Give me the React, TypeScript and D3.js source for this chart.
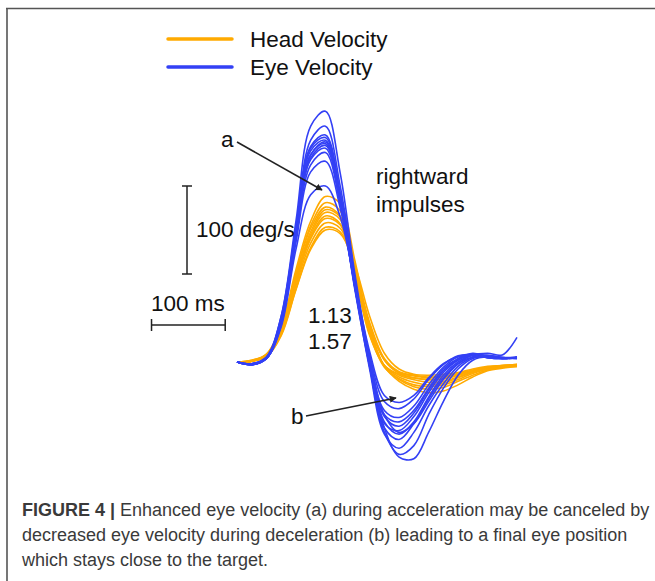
import { useEffect, useRef } from 'react';
import * as d3 from 'd3';

// sample times (ms), one value every 20 ms
const times = [0, 20, 40, 60, 80, 100, 120, 140, 160, 180, 200, 220, 240, 260, 280, 300, 320, 340, 360, 380];

// head velocity traces (deg/s)
const head1 = [0, 1, 9, 40, 105, 160, 188, 180, 115, 40, -5, -22, -31, -35, -33, -26, -17, -10, -7, -5];
const head2 = [0, 1, 8, 38, 100, 155, 181, 172, 108, 36, -5, -20, -28, -31, -29, -22, -15, -9, -6, -5];
const head3 = [0, 2, 9, 40, 100, 152, 176, 166, 102, 32, -6, -19, -26, -28, -26, -20, -13, -8, -6, -4];
const head4 = [0, 1, 7, 35, 95, 148, 173, 165, 105, 35, -4, -17, -23, -26, -24, -18, -12, -8, -5, -4];
const head5 = [0, 1, 8, 36, 94, 145, 170, 162, 100, 32, -4, -15, -20, -23, -22, -17, -11, -7, -5, -4];
const head6 = [0, 2, 8, 37, 93, 142, 166, 157, 98, 30, -4, -14, -18, -20, -19, -15, -10, -7, -5, -3];
const head7 = [0, 1, 7, 34, 90, 140, 163, 156, 104, 40, 2, -13, -18, -20, -19, -15, -10, -7, -5, -4];
const head8 = [0, 1, 7, 33, 87, 135, 158, 152, 106, 42, 3, -12, -16, -18, -17, -14, -10, -6, -4, -3];
const head9 = [0, 1, 6, 31, 83, 130, 153, 148, 104, 45, 4, -11, -15, -17, -16, -13, -9, -6, -4, -3];
const head10 = [0, 1, 6, 30, 82, 128, 150, 146, 110, 52, 10, -8, -14, -15, -14, -12, -8, -5, -4, -3];

// eye velocity traces (deg/s)
const eye1 = [0, -2, 5, 52, 160, 268, 285, 215, 100, 5, -60, -80, -70, -45, -20, -2, 8, 10, 8, 28];
const eye2 = [0, -3, 4, 48, 152, 252, 268, 200, 95, 0, -75, -108, -110, -80, -45, -15, 2, 6, 4, 5];
const eye3 = [0, -2, 4, 46, 148, 245, 258, 192, 88, -5, -80, -105, -95, -60, -30, -8, 4, 6, 5, 5];
const eye4 = [0, -3, 5, 50, 150, 243, 255, 190, 85, -8, -82, -98, -80, -50, -25, -5, 5, 7, 5, 4];
const eye5 = [0, -2, 6, 52, 152, 240, 252, 186, 82, -5, -75, -88, -70, -42, -18, -2, 6, 8, 5, 4];
const eye6 = [0, -3, 4, 45, 145, 235, 250, 190, 90, 0, -68, -82, -68, -40, -15, 0, 8, 6, 4, 5];
const eye7 = [0, -2, 5, 48, 148, 236, 248, 185, 85, -3, -70, -78, -62, -35, -12, 2, 8, 6, 5, 4];
const eye8 = [0, -3, 4, 44, 143, 232, 246, 188, 88, 2, -62, -73, -58, -32, -10, 3, 9, 7, 4, 5];
const eye9 = [0, -2, 4, 46, 145, 230, 243, 182, 84, 0, -60, -68, -55, -30, -8, 4, 10, 6, 4, 5];
const eye10 = [0, -3, 5, 44, 140, 224, 238, 180, 86, 4, -55, -63, -50, -26, -6, 6, 9, 5, 4, 6];
const eye11 = [0, -2, 4, 42, 136, 216, 228, 175, 88, 8, -45, -53, -42, -20, -3, 7, 8, 5, 4, 5];
const eye12 = [0, -3, 4, 40, 128, 190, 200, 165, 90, 12, -38, -46, -38, -18, -2, 6, 7, 5, 4, 5];

const headTraces = [head1, head2, head3, head4, head5, head6, head7, head8, head9, head10];
const eyeTraces = [eye1, eye2, eye3, eye4, eye5, eye6, eye7, eye8, eye9, eye10, eye11, eye12];

const legendLabels = ['Head Velocity', 'Eye Velocity'];
const ratios = ['1.13', '1.57'];
const captionLines = [
  'Enhanced eye velocity (a) during acceleration may be canceled by',
  'decreased eye velocity during deceleration (b) leading to a final eye position',
  'which stays close to the target.',
];

const HEAD = '#ffaa00';
const EYE = '#3340f5';
const W = 655;
const H = 581;

export default function App() {
  const ref = useRef<SVGSVGElement | null>(null);

  useEffect(() => {
    if (!ref.current) return;
    const svg = d3.select(ref.current);
    svg.selectAll('*').remove();
    const font = 'Liberation Sans, Arial, sans-serif';

    // frame
    svg.append('path')
      .attr('d', `M6,8.5H${W}M7,8V${H}`)
      .attr('fill', 'none')
      .attr('stroke', '#555')
      .attr('stroke-width', 1.6);

    // scales
    const x = d3.scaleLinear().domain([0, 380]).range([237, 517]);
    const y = d3.scaleLinear().domain([-100, 200]).range([450, 186]);

    const line = d3.line<number>()
      .x((_, i) => x(times[i]))
      .y(d => y(d))
      .curve(d3.curveCatmullRom.alpha(0.5));

    const g = svg.append('g');
    g.selectAll('.head')
      .data(headTraces)
      .enter()
      .append('path')
      .attr('class', 'head')
      .attr('d', d => line(d))
      .attr('fill', 'none')
      .attr('stroke', HEAD)
      .attr('stroke-width', 1.6);

    g.selectAll('.eye')
      .data(eyeTraces)
      .enter()
      .append('path')
      .attr('class', 'eye')
      .attr('d', d => line(d))
      .attr('fill', 'none')
      .attr('stroke', EYE)
      .attr('stroke-width', 1.6);

    // legend
    const legend = svg.append('g');
    [HEAD, EYE].forEach((c, i) => {
      const ly = 39 + i * 28;
      legend.append('line')
        .attr('x1', 168).attr('x2', 232)
        .attr('y1', ly).attr('y2', ly)
        .attr('stroke', c)
        .attr('stroke-width', 3.5)
        .attr('stroke-linecap', 'round');
      legend.append('text')
        .attr('x', 250).attr('y', ly + 8)
        .style('font-family', font)
        .style('font-size', '22.5px')
        .attr('fill', '#111')
        .text(legendLabels[i]);
    });

    // scale bars
    const bar = svg.append('g').attr('stroke', '#222').attr('stroke-width', 1.5);
    const vx = 187;
    bar.append('line').attr('x1', vx).attr('x2', vx).attr('y1', y(200)).attr('y2', y(100));
    [200, 100].forEach(v => {
      bar.append('line').attr('x1', vx - 5).attr('x2', vx + 5).attr('y1', y(v)).attr('y2', y(v));
    });
    const hy = 325;
    const t0 = -116;
    bar.append('line').attr('x1', x(t0)).attr('x2', x(t0 + 100)).attr('y1', hy).attr('y2', hy);
    [t0, t0 + 100].forEach(t => {
      bar.append('line').attr('x1', x(t)).attr('x2', x(t)).attr('y1', hy - 6).attr('y2', hy + 6);
    });

    const txt = (tx: number, ty: number, s: string, size = 22.5) =>
      svg.append('text')
        .attr('x', tx).attr('y', ty)
        .style('font-family', font)
        .style('font-size', `${size}px`)
        .attr('fill', '#111')
        .text(s);

    txt(196, 237, '100 deg/s');
    txt(151, 311, '100 ms');
    txt(376, 184, 'rightward');
    txt(376, 212, 'impulses');
    txt(308, 323, ratios[0]);
    txt(308, 349, ratios[1]);
    txt(221, 147, 'a');
    txt(291, 424, 'b');

    // arrows
    const defs = svg.append('defs');
    defs.append('marker')
      .attr('id', 'arrow')
      .attr('viewBox', '0 0 10 10')
      .attr('refX', 9).attr('refY', 5)
      .attr('markerWidth', 7).attr('markerHeight', 7)
      .attr('markerUnits', 'userSpaceOnUse')
      .attr('orient', 'auto')
      .append('path')
      .attr('d', 'M0,0L10,5L0,10Z')
      .attr('fill', '#222');
    [[237, 142, 322, 190], [306, 416, 396, 398]].forEach(([x1, y1, x2, y2]) => {
      svg.append('line')
        .attr('x1', x1).attr('y1', y1).attr('x2', x2).attr('y2', y2)
        .attr('stroke', '#222')
        .attr('stroke-width', 1.6)
        .attr('marker-end', 'url(#arrow)');
    });

    // caption
    const cap = svg.append('text')
      .style('font-family', font)
      .style('font-size', '18px')
      .attr('fill', '#3a3a3a');
    cap.append('tspan')
      .attr('x', 22).attr('y', 516)
      .style('font-weight', 'bold')
      .text('FIGURE 4 | ');
    cap.append('tspan').text(captionLines[0]);
    captionLines.slice(1).forEach((l, i) => {
      cap.append('tspan').attr('x', 22).attr('y', 541 + i * 25).text(l);
    });
  }, []);

  return (
    <svg
      ref={ref}
      width={W}
      height={H}
      style={{ position: 'absolute', left: 0, top: 0, background: '#fff' }}
    />
  );
}
